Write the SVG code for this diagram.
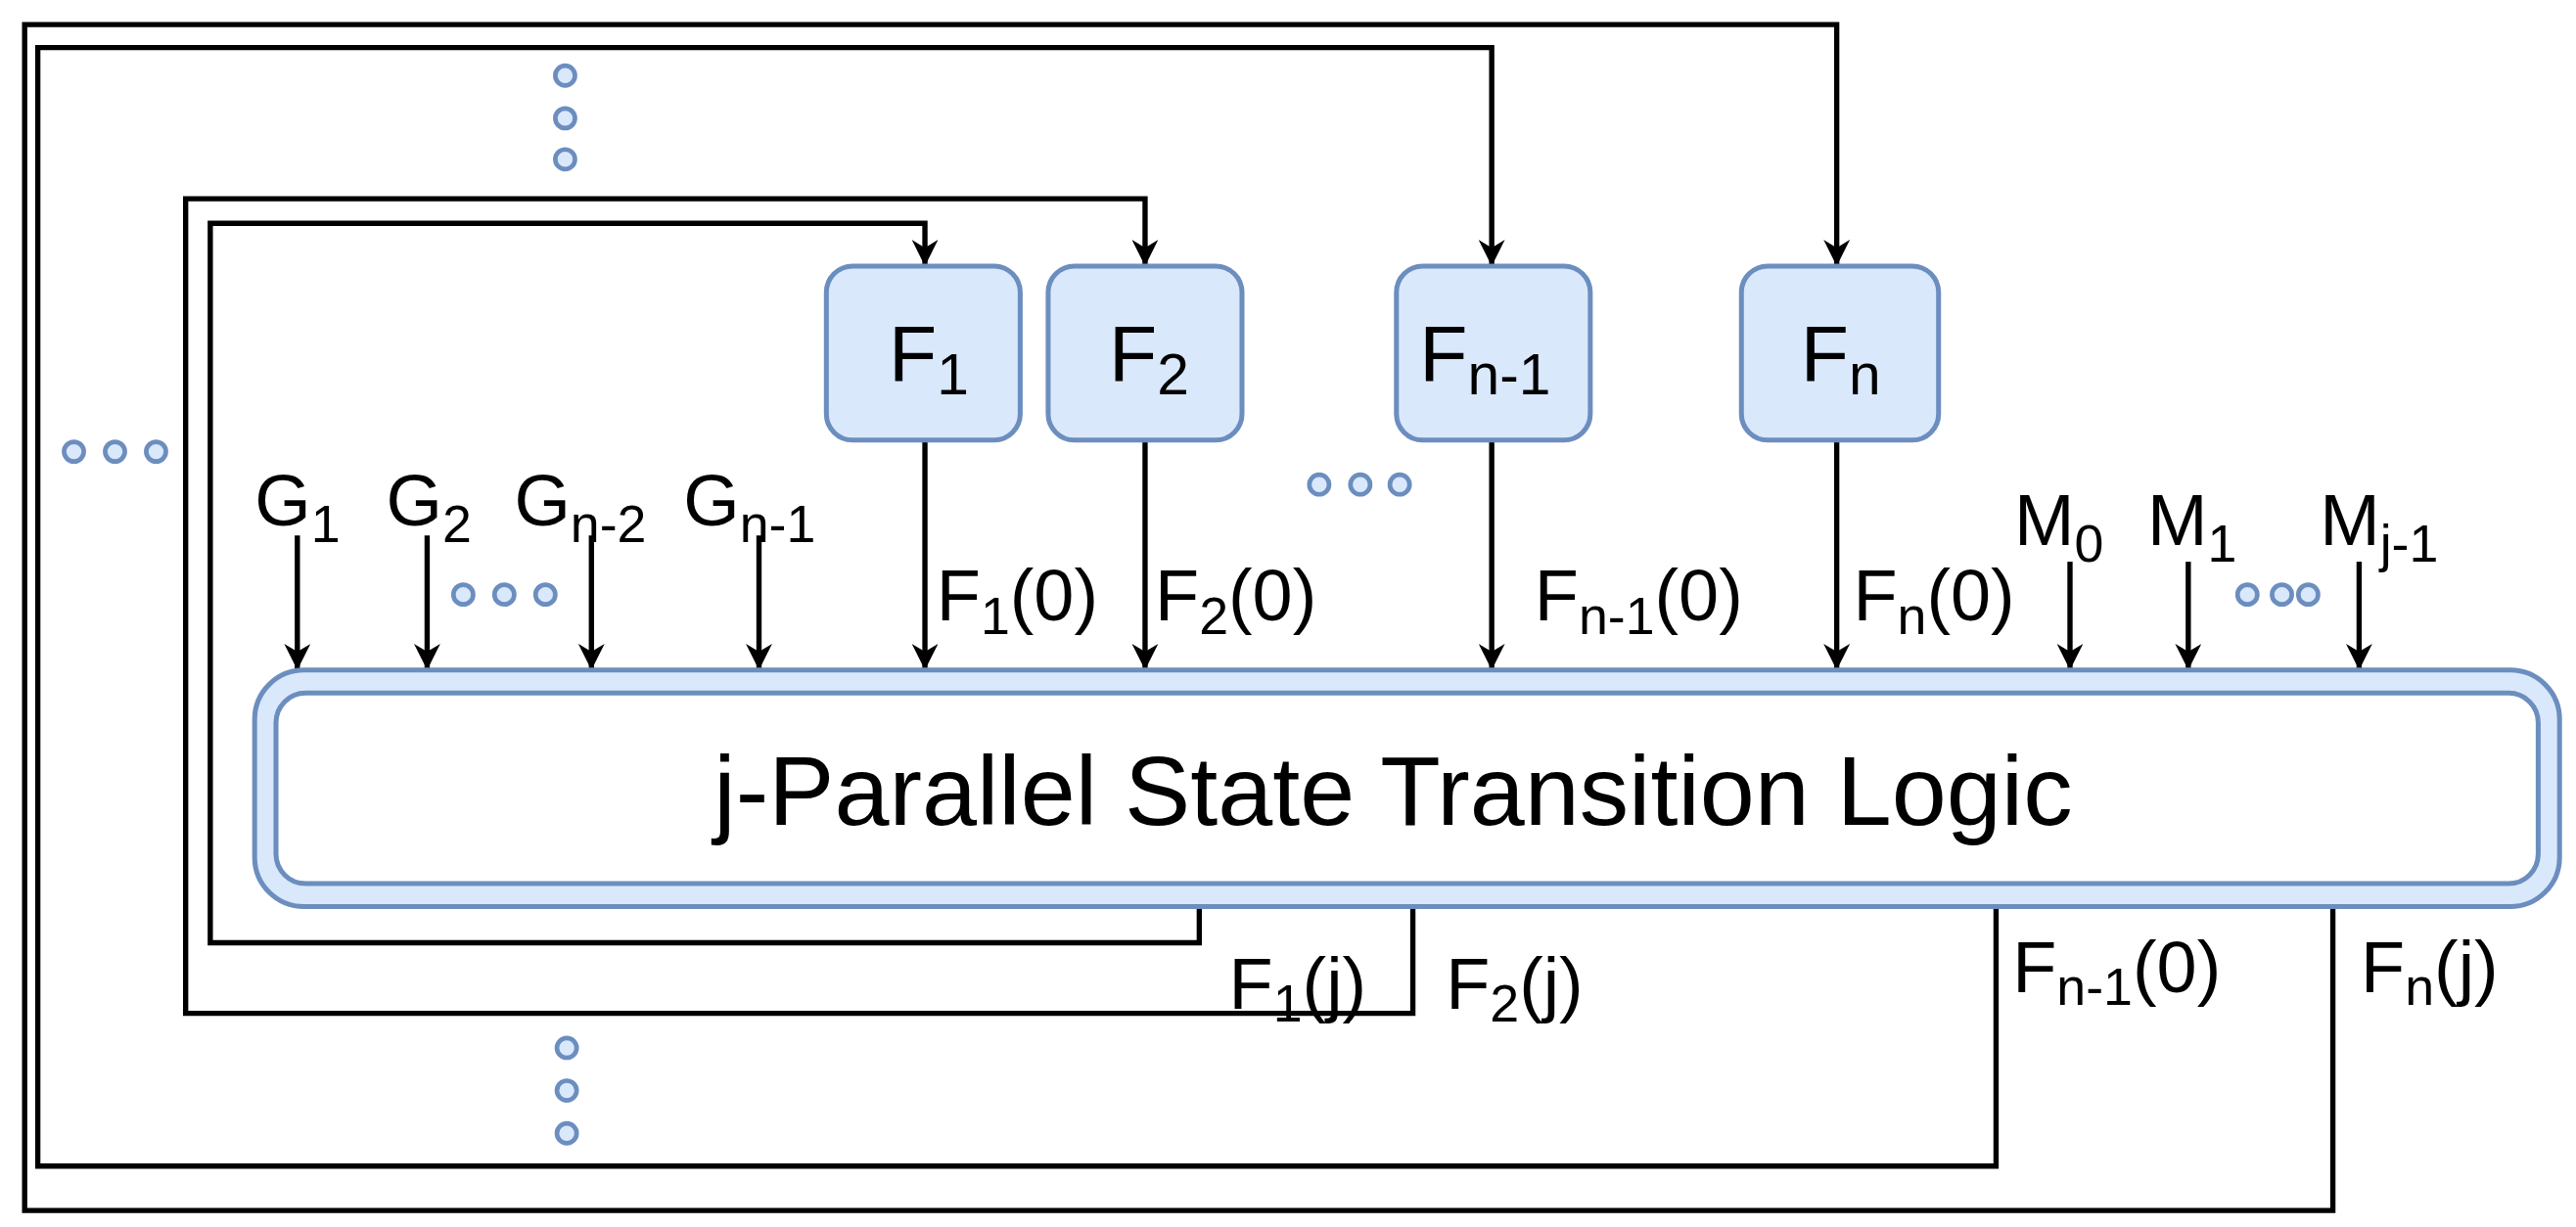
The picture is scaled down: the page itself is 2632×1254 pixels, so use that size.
<svg xmlns="http://www.w3.org/2000/svg" width="2632" height="1254" viewBox="0 0 2632 1254">
<defs>
<marker id="ah" viewBox="0 0 10 10" refX="10" refY="5" markerWidth="5" markerHeight="5" markerUnits="strokeWidth" orient="auto"><path d="M0,0 L10,5 L0,10 L3,5 Z" fill="#000"/></marker>
<style>
.a{fill:none;stroke:#000;stroke-width:3.2;marker-end:url(#ah)}
.bx{fill:#dae8fc;stroke:#6c8ebf;stroke-width:3}
.d{fill:#dae8fc;stroke:#6c8ebf;stroke-width:2.8}
text{font-family:"Liberation Sans",Arial,sans-serif;fill:#000}
.l{font-size:44px}
.s{font-size:32px}
.bl{font-size:48px}
.bs{font-size:35px}
.big{font-size:60px}
</style>
</defs>
<rect width="2632" height="1254" fill="#fff"/>
<g transform="scale(1.67857)">
<g id="connectors">
<path class="a" d="M1420,552 V737 H15 V15 H1118 V162"/>
<path class="a" d="M1215,552 V710 H23 V29 H908 V162"/>
<path class="a" d="M860,552 V617 H113 V121 H697 V162"/>
<path class="a" d="M730,552 V574 H128 V136 H563 V162"/>
<path class="a" d="M181,326 V408"/>
<path class="a" d="M260,326 V408"/>
<path class="a" d="M360,326 V408"/>
<path class="a" d="M462,326 V408"/>
<path class="a" d="M563,268 V408"/>
<path class="a" d="M697,268 V408"/>
<path class="a" d="M908,268 V408"/>
<path class="a" d="M1118,268 V408"/>
<path class="a" d="M1260,342 V408"/>
<path class="a" d="M1332,342 V408"/>
<path class="a" d="M1436,342 V408"/>
</g>
<g id="main">
<rect class="bx" x="155" y="408" width="1403" height="144" rx="30"/>
<rect x="168" y="422" width="1377" height="116" rx="18" fill="#fff" stroke="#6c8ebf" stroke-width="3"/>
<text class="big" x="848" y="502" text-anchor="middle">j-Parallel State Transition Logic</text>
</g>
<g id="F1"><rect class="bx" x="503" y="162" width="118" height="106" rx="16"/><text class="bl" x="541" y="232">F<tspan class="bs" dy="8">1</tspan></text></g>
<g id="F2"><rect class="bx" x="638" y="162" width="118" height="106" rx="16"/><text class="bl" x="675" y="232">F<tspan class="bs" dy="8">2</tspan></text></g>
<g id="Fn-1"><rect class="bx" x="850" y="162" width="118" height="106" rx="16"/><text class="bl" x="864" y="232">F<tspan class="bs" dy="8">n-1</tspan></text></g>
<g id="Fn"><rect class="bx" x="1060" y="162" width="120" height="106" rx="16"/><text class="bl" x="1096" y="232">F<tspan class="bs" dy="8">n</tspan></text></g>
<g id="labels">
<text class="l" x="155" y="320">G<tspan class="s" dy="10">1</tspan></text>
<text class="l" x="235" y="320">G<tspan class="s" dy="10">2</tspan></text>
<text class="l" x="313" y="320">G<tspan class="s" dy="10">n-2</tspan></text>
<text class="l" x="416" y="320">G<tspan class="s" dy="10">n-1</tspan></text>
<text class="l" x="570" y="378">F<tspan class="s" dy="8">1</tspan><tspan dy="-8">(0)</tspan></text>
<text class="l" x="703" y="378">F<tspan class="s" dy="8">2</tspan><tspan dy="-8">(0)</tspan></text>
<text class="l" x="934" y="378">F<tspan class="s" dy="8">n-1</tspan><tspan dy="-8">(0)</tspan></text>
<text class="l" x="1128" y="378">F<tspan class="s" dy="8">n</tspan><tspan dy="-8">(0)</tspan></text>
<text class="l" x="1226" y="332">M<tspan class="s" dy="10">0</tspan></text>
<text class="l" x="1307" y="332">M<tspan class="s" dy="10">1</tspan></text>
<text class="l" x="1412" y="332">M<tspan class="s" dy="10">j-1</tspan></text>
<text class="l" x="748" y="614">F<tspan class="s" dy="8">1</tspan><tspan dy="-8">(j)</tspan></text>
<text class="l" x="880" y="614">F<tspan class="s" dy="8">2</tspan><tspan dy="-8">(j)</tspan></text>
<text class="l" x="1225" y="604">F<tspan class="s" dy="8">n-1</tspan><tspan dy="-8">(0)</tspan></text>
<text class="l" x="1437" y="604">F<tspan class="s" dy="8">n</tspan><tspan dy="-8">(j)</tspan></text>
</g>
<g id="dots">
<circle class="d" cx="344" cy="46" r="6"/><circle class="d" cx="344" cy="72" r="6"/><circle class="d" cx="344" cy="97" r="6"/>
<circle class="d" cx="345" cy="638" r="6"/><circle class="d" cx="345" cy="664" r="6"/><circle class="d" cx="345" cy="690" r="6"/>
<circle class="d" cx="45" cy="275" r="6"/><circle class="d" cx="70" cy="275" r="6"/><circle class="d" cx="95" cy="275" r="6"/>
<circle class="d" cx="282" cy="362" r="6"/><circle class="d" cx="307" cy="362" r="6"/><circle class="d" cx="332" cy="362" r="6"/>
<circle class="d" cx="803" cy="295" r="6"/><circle class="d" cx="828" cy="295" r="6"/><circle class="d" cx="852" cy="295" r="6"/>
<circle class="d" cx="1368" cy="362" r="6"/><circle class="d" cx="1389" cy="362" r="6"/><circle class="d" cx="1405" cy="362" r="6"/>
</g>
</g>
</svg>
